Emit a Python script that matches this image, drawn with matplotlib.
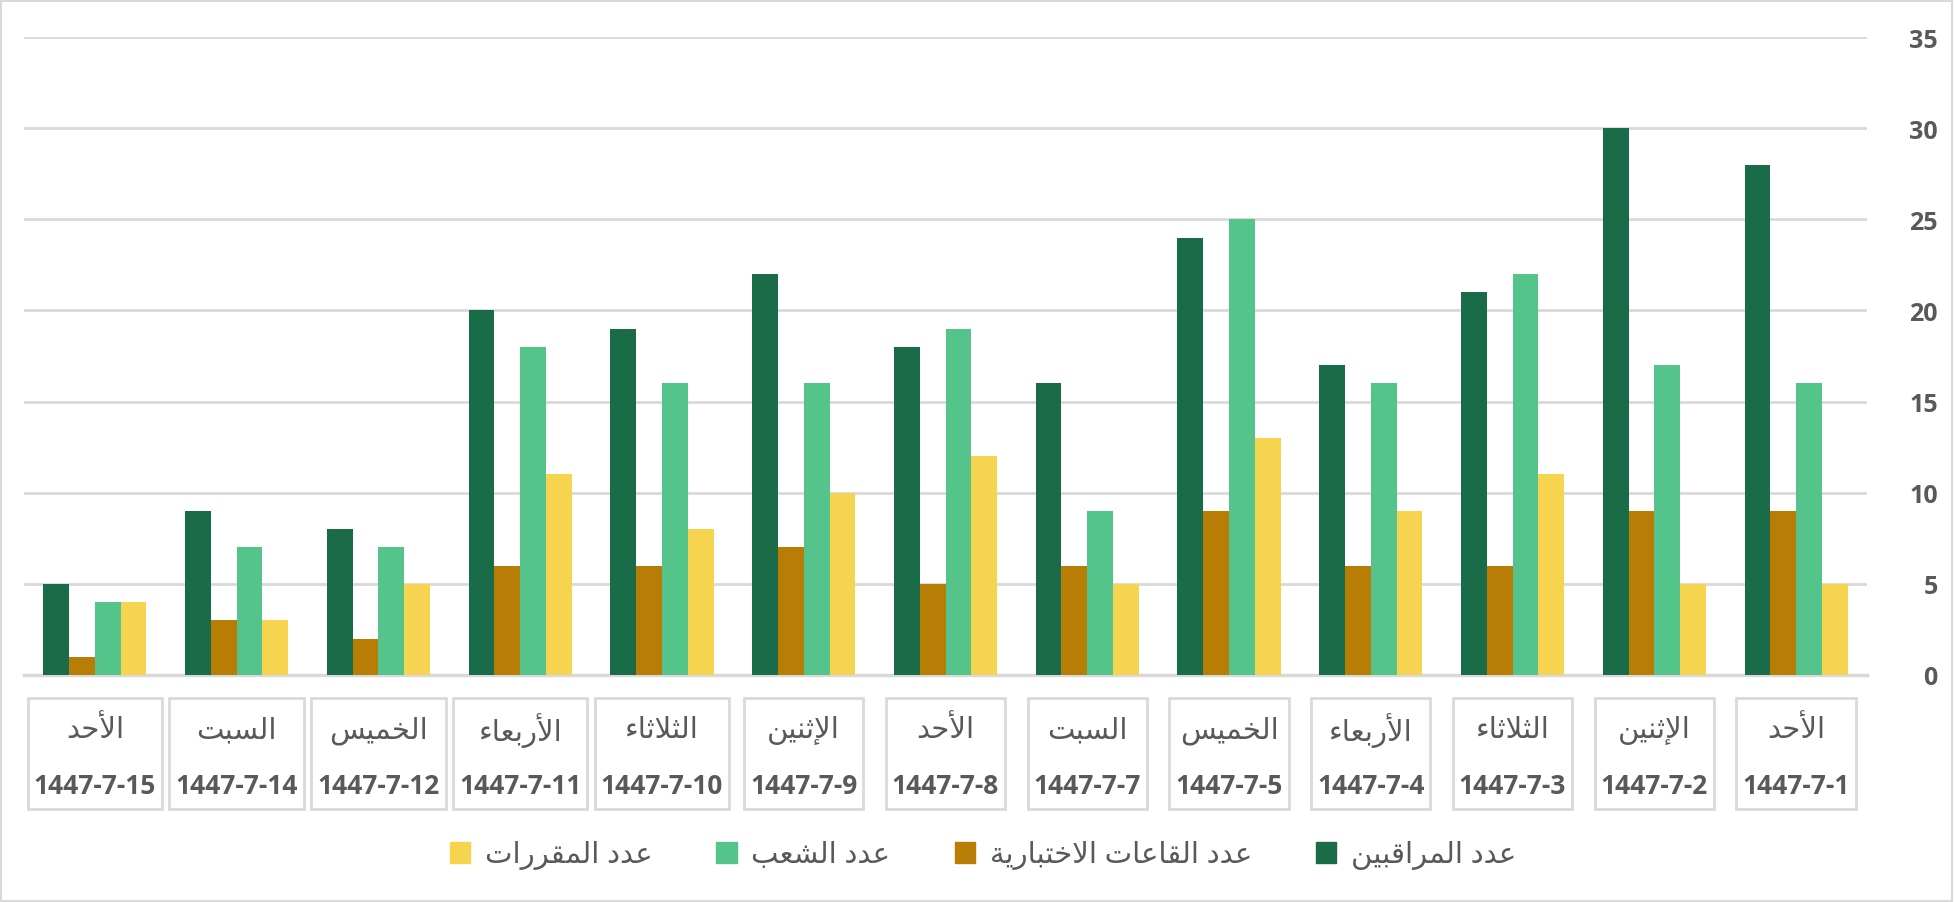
import numpy as np
import matplotlib
matplotlib.use("Agg")
import matplotlib.pyplot as plt
import matplotlib.patches as mpatches
import matplotlib.transforms as mtransforms

# arabic shaping by hand (matplotlib has no bidi / joining)
# forms: isolated, final, initial, medial
FORMS = {
    '\u0621': ('\uFE80', None, None, None),
    '\u0623': ('\uFE83', '\uFE84', None, None),
    '\u0625': ('\uFE87', '\uFE88', None, None),
    '\u0627': ('\uFE8D', '\uFE8E', None, None),
    '\u0628': ('\uFE8F', '\uFE90', '\uFE91', '\uFE92'),
    '\u0629': ('\uFE93', '\uFE94', None, None),
    '\u062A': ('\uFE95', '\uFE96', '\uFE97', '\uFE98'),
    '\u062B': ('\uFE99', '\uFE9A', '\uFE9B', '\uFE9C'),
    '\u062D': ('\uFEA1', '\uFEA2', '\uFEA3', '\uFEA4'),
    '\u062E': ('\uFEA5', '\uFEA6', '\uFEA7', '\uFEA8'),
    '\u062F': ('\uFEA9', '\uFEAA', None, None),
    '\u0631': ('\uFEAD', '\uFEAE', None, None),
    '\u0633': ('\uFEB1', '\uFEB2', '\uFEB3', '\uFEB4'),
    '\u0634': ('\uFEB5', '\uFEB6', '\uFEB7', '\uFEB8'),
    '\u0639': ('\uFEC9', '\uFECA', '\uFECB', '\uFECC'),
    '\u0641': ('\uFED1', '\uFED2', '\uFED3', '\uFED4'),
    '\u0642': ('\uFED5', '\uFED6', '\uFED7', '\uFED8'),
    '\u0644': ('\uFEDD', '\uFEDE', '\uFEDF', '\uFEE0'),
    '\u0645': ('\uFEE1', '\uFEE2', '\uFEE3', '\uFEE4'),
    '\u0646': ('\uFEE5', '\uFEE6', '\uFEE7', '\uFEE8'),
    '\u064A': ('\uFEF1', '\uFEF2', '\uFEF3', '\uFEF4'),
}
LAM_ALEF = {'\u0627': ('\uFEFB', '\uFEFC'),
            '\u0623': ('\uFEF7', '\uFEF8'),
            '\u0625': ('\uFEF9', '\uFEFA')}


def joins_next(u):
    if u is None or u[0] == 'LA':
        return False
    f = FORMS.get(u[1])
    return f is not None and f[2] is not None


def joins_prev(u):
    if u is None:
        return False
    if u[0] == 'LA':
        return True
    f = FORMS.get(u[1])
    return f is not None and f[1] is not None


def ar(text):
    units = []
    i = 0
    while i < len(text):
        if text[i] == '\u0644' and i + 1 < len(text) and text[i + 1] in LAM_ALEF:
            units.append(('LA', text[i + 1]))
            i += 2
        else:
            units.append(('C', text[i]))
            i += 1
    out = []
    for k, u in enumerate(units):
        prev = units[k - 1] if k > 0 else None
        nxt = units[k + 1] if k + 1 < len(units) else None
        if u[0] == 'LA':
            out.append(LAM_ALEF[u[1]][1 if joins_next(prev) else 0])
            continue
        f = FORMS.get(u[1])
        if f is None:
            out.append(u[1])
            continue
        p = joins_next(prev) and f[1] is not None
        n = joins_prev(nxt) and f[2] is not None
        if p and n:
            out.append(f[3])
        elif p:
            out.append(f[1])
        elif n:
            out.append(f[2])
        else:
            out.append(f[0])
    return ''.join(reversed(out))


# data (first category is drawn on the right)
dates = ['1447-7-1', '1447-7-2', '1447-7-3', '1447-7-4', '1447-7-5', '1447-7-7',
         '1447-7-8', '1447-7-9', '1447-7-10', '1447-7-11', '1447-7-12', '1447-7-14',
         '1447-7-15']
days = ['الأحد', 'الإثنين', 'الثلاثاء', 'الأربعاء', 'الخميس', 'السبت',
        'الأحد', 'الإثنين', 'الثلاثاء', 'الأربعاء', 'الخميس', 'السبت', 'الأحد']
proctors = [28, 30, 21, 17, 24, 16, 18, 22, 19, 20, 8, 9, 5]
rooms = [9, 9, 6, 6, 9, 6, 5, 7, 6, 6, 2, 3, 1]
sections = [16, 17, 22, 16, 25, 9, 19, 16, 16, 18, 7, 7, 4]
courses = [5, 5, 11, 9, 13, 5, 12, 10, 8, 11, 5, 3, 4]

names = ['عدد المراقبين', 'عدد القاعات الاختبارية', 'عدد الشعب', 'عدد المقررات']
colors = ['#1A6B48', '#B87D05', '#54C48B', '#F6D44F']
series = [proctors, rooms, sections, courses]

plt.rcParams['font.family'] = ['Open Sans', 'DejaVu Sans']
txt_col = '#595959'
grid_col = '#D9D9D9'

W, H = 1954, 903
fig = plt.figure(figsize=(W / 100, H / 100), dpi=100)
ax = fig.add_axes([24 / W, 1 - 676 / H, (1867 - 24) / W, (676 - 38) / H])

n = len(dates)
pos = np.arange(n)[::-1]
bw = 0.182
for k, (vals, c) in enumerate(zip(series, colors)):
    ax.bar(pos + (k - 1.5) * bw, vals, width=bw, color=c, zorder=3)

ax.set_xlim(-0.5, n - 0.5)
ax.set_ylim(0, 35)
ax.set_yticks(range(0, 36, 5))
ax.yaxis.tick_right()
ax.yaxis.grid(True, color=grid_col, lw=2)
ax.set_axisbelow(True)
ax.tick_params(axis='y', length=0, pad=51, labelsize=18, labelcolor=txt_col)
for lab in ax.get_yticklabels():
    lab.set_ha('right')
    lab.set_fontweight('bold')
ax.set_xticks([])
for s in ['top', 'left', 'right']:
    ax.spines[s].set_visible(False)
ax.spines['bottom'].set_color(grid_col)
ax.spines['bottom'].set_linewidth(2.5)

# two level category labels in boxes
blend = mtransforms.blended_transform_factory(ax.transData, fig.transFigure)
dts = []
for p, d, dy in zip(pos, dates, days):
    ax.text(p, 1 - 731 / H, ar(dy), transform=blend, ha='center', va='center',
            fontsize=21, color=txt_col)
    dt = ax.text(p, 1 - 786 / H, d, transform=blend, ha='center', va='center',
                 fontsize=19, color=txt_col, fontweight='bold')
    dts.append(dt)

fig.canvas.draw()
rend = fig.canvas.get_renderer()
step = (1867 - 24) / n
for dt in dts:
    bb = dt.get_window_extent(rend)
    bwid = min(bb.width + 12, step - 2)
    cx = (bb.x0 + bb.x1) / 2
    rect = mpatches.Rectangle(((cx - bwid / 2) / W, (H - 810) / H), bwid / W, 111 / H,
                              transform=fig.transFigure, fill=False, ec=grid_col, lw=2)
    fig.patches.append(rect)

# legend: marker left of text, order left->right reversed
handles = [mpatches.Patch(color=c) for c in colors][::-1]
labels = [ar(s) for s in names][::-1]
fig.legend(handles, labels, loc='center', bbox_to_anchor=(983 / W, 1 - 856 / H), ncol=4,
           frameon=False, fontsize=21, labelcolor=txt_col, handlelength=0.7,
           handleheight=0.7, handletextpad=0.5, columnspacing=2.2)

fig.patches.append(mpatches.Rectangle((1 / W, 1 / H), (W - 3) / W, (H - 3) / H,
                                      transform=fig.transFigure, fill=False,
                                      ec=grid_col, lw=1.5))

fig.savefig('out.png', dpi=100)
